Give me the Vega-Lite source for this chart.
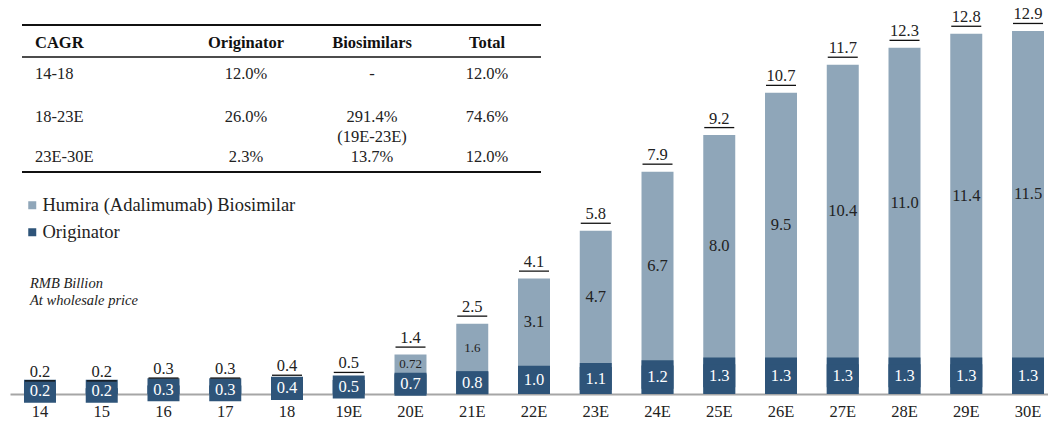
{
  "$schema": "https://vega.github.io/schema/vega-lite/v6.json",
  "width": 1038,
  "height": 394,
  "autosize": {"type": "none"},
  "padding": {"left": 10, "top": 0, "right": 0, "bottom": 27},
  "background": "white",
  "config": {
    "view": {"stroke": null},
    "font": "Liberation Serif",
    "text": {"font": "Liberation Serif"},
    "legend": {"labelFont": "Liberation Serif"},
    "axis": {"labelFont": "Liberation Serif"},
    "title": {"font": "Liberation Serif"}
  },
  "title": {
    "text": ["RMB Billion", "At wholesale price"],
    "anchor": "start",
    "orient": "top",
    "frame": "group",
    "fontSize": 14.5,
    "fontStyle": "italic",
    "fontWeight": "normal",
    "color": "#222222",
    "lineHeight": 17,
    "baseline": "top",
    "offset": 0,
    "dx": 20,
    "dy": 308
  },
  "datasets": {
    "main": [
      {"year": "14", "orig": 0.2, "total": 0.2},
      {"year": "15", "orig": 0.2, "total": 0.2},
      {"year": "16", "orig": 0.3, "total": 0.3},
      {"year": "17", "orig": 0.3, "total": 0.3},
      {"year": "18", "orig": 0.4, "total": 0.4},
      {"year": "19E", "orig": 0.5, "total": 0.5},
      {"year": "20E", "orig": 0.7, "bio": 0.72, "bioLabel": "0.72", "total": 1.4},
      {"year": "21E", "orig": 0.8, "bio": 1.6, "bioLabel": "1.6", "total": 2.5},
      {"year": "22E", "orig": 1.0, "bio": 3.1, "bioLabel": "3.1", "total": 4.1},
      {"year": "23E", "orig": 1.1, "bio": 4.7, "bioLabel": "4.7", "total": 5.8},
      {"year": "24E", "orig": 1.2, "bio": 6.7, "bioLabel": "6.7", "total": 7.9},
      {"year": "25E", "orig": 1.3, "bio": 8.0, "bioLabel": "8.0", "total": 9.2},
      {"year": "26E", "orig": 1.3, "bio": 9.5, "bioLabel": "9.5", "total": 10.7},
      {"year": "27E", "orig": 1.3, "bio": 10.4, "bioLabel": "10.4", "total": 11.7},
      {"year": "28E", "orig": 1.3, "bio": 11.0, "bioLabel": "11.0", "total": 12.3},
      {"year": "29E", "orig": 1.3, "bio": 11.4, "bioLabel": "11.4", "total": 12.8},
      {"year": "30E", "orig": 1.3, "bio": 11.5, "bioLabel": "11.5", "total": 12.9}
    ],
    "table": [
      {"r": 0, "c": 0, "t": "CAGR"},
      {"r": 0, "c": 1, "t": "Originator"},
      {"r": 0, "c": 2, "t": "Biosimilars"},
      {"r": 0, "c": 3, "t": "Total"},
      {"r": 1, "c": 0, "t": "14-18"},
      {"r": 1, "c": 1, "t": "12.0%"},
      {"r": 1, "c": 2, "t": "-"},
      {"r": 1, "c": 3, "t": "12.0%"},
      {"r": 2, "c": 0, "t": "18-23E"},
      {"r": 2, "c": 1, "t": "26.0%"},
      {"r": 2, "c": 2, "t": "291.4%\n(19E-23E)"},
      {"r": 2, "c": 3, "t": "74.6%"},
      {"r": 3, "c": 0, "t": "23E-30E"},
      {"r": 3, "c": 1, "t": "2.3%"},
      {"r": 3, "c": 2, "t": "13.7%"},
      {"r": 3, "c": 3, "t": "12.0%"}
    ],
    "rules": [
      {"b": -0.5},
      {"b": 0.5},
      {"b": 3.5}
    ]
  },
  "resolve": {"scale": {"x": "independent", "y": "independent"}},
  "layer": [
    {
      "data": {"name": "main"},
      "mark": {"type": "bar"},
      "encoding": {
        "x": {"field": "year", "type": "nominal", "sort": null,
          "scale": {"type": "band", "domain": ["14","15","16","17","18","19E","20E","21E","22E","23E","24E","25E","26E","27E","28E","29E","30E"], "paddingInner": 0.482, "paddingOuter": 0.1457, "align": 0.778},
          "axis": {"title": null, "domainColor": "#A6A6A6", "domainWidth": 2, "ticks": false, "grid": false, "labelAngle": 0, "labelFontSize": 16.5, "labelColor": "#222222", "labelPadding": 9}},
        "y": {"field": "total", "type": "quantitative", "scale": {"domain": [0, 14], "nice": false}, "axis": null},
        "color": {"datum": "Humira (Adalimumab) Biosimilar", "type": "nominal",
          "scale": {"domain": ["Humira (Adalimumab) Biosimilar", "Originator"], "range": ["#8FA6B9", "#2E5479"]},
          "legend": {"title": null, "orient": "none", "legendX": 13, "legendY": 196, "symbolType": "square", "symbolSize": 64, "symbolStrokeWidth": 0, "labelFontSize": 18.5, "labelColor": "#222222", "labelOffset": 1, "labelLimit": 500, "rowPadding": 8, "padding": 0}}
      }
    },
    {
      "data": {"name": "main"},
      "transform": [
        {"filter": "datum.bio > 0"},
        {"fold": ["orig", "total"], "as": ["k", "v"]}
      ],
      "mark": {"type": "text", "baseline": "middle", "align": "center", "color": "#222222"},
      "encoding": {
        "x": {"field": "year", "type": "nominal", "sort": null,
          "scale": {"type": "band", "domain": ["14","15","16","17","18","19E","20E","21E","22E","23E","24E","25E","26E","27E","28E","29E","30E"], "paddingInner": 0.482, "paddingOuter": 0.1457, "align": 0.778},
          "axis": null},
        "y": {"aggregate": "sum", "field": "v", "type": "quantitative", "scale": {"domain": [0, 28], "nice": false}, "axis": null},
        "text": {"field": "bioLabel", "type": "nominal"},
        "detail": {"field": "bio", "type": "quantitative"},
        "size": {"condition": {"test": "datum.bio < 2", "value": 13}, "value": 16.5}
      }
    },
    {
      "data": {"name": "main"},
      "mark": {"type": "bar"},
      "encoding": {
        "x": {"field": "year", "type": "nominal", "sort": null,
          "scale": {"type": "band", "domain": ["14","15","16","17","18","19E","20E","21E","22E","23E","24E","25E","26E","27E","28E","29E","30E"], "paddingInner": 0.482, "paddingOuter": 0.1457, "align": 0.778},
          "axis": null},
        "y": {"field": "orig", "type": "quantitative", "scale": {"domain": [0, 14], "nice": false}, "axis": null},
        "color": {"datum": "Originator", "type": "nominal"}
      }
    },
    {
      "data": {"name": "main"},
      "mark": {"type": "point", "shape": "M-1,-0.72H1V0.72H-1Z", "size": 1024, "filled": true, "opacity": 1, "color": "#2E5479", "strokeWidth": 0},
      "encoding": {
        "x": {"field": "year", "type": "nominal", "sort": null,
          "scale": {"type": "band", "domain": ["14","15","16","17","18","19E","20E","21E","22E","23E","24E","25E","26E","27E","28E","29E","30E"], "paddingInner": 0.482, "paddingOuter": 0.1457, "align": 0.778},
          "axis": null},
        "y": {"field": "orig", "type": "quantitative", "scale": {"domain": [0, 28], "nice": false}, "axis": null}
      }
    },
    {
      "data": {"name": "main"},
      "mark": {"type": "text", "baseline": "middle", "align": "center", "color": "white", "fontSize": 16.5},
      "encoding": {
        "x": {"field": "year", "type": "nominal", "sort": null,
          "scale": {"type": "band", "domain": ["14","15","16","17","18","19E","20E","21E","22E","23E","24E","25E","26E","27E","28E","29E","30E"], "paddingInner": 0.482, "paddingOuter": 0.1457, "align": 0.778},
          "axis": null},
        "y": {"field": "orig", "type": "quantitative", "scale": {"domain": [0, 28], "nice": false}, "axis": null},
        "text": {"field": "orig", "type": "quantitative", "format": ".1f"}
      }
    },
    {
      "data": {"name": "main"},
      "mark": {"type": "tick", "size": 30, "thickness": 1.3, "color": "#111111", "opacity": 1, "yOffset": -7.5},
      "encoding": {
        "x": {"field": "year", "type": "nominal", "sort": null,
          "scale": {"type": "band", "domain": ["14","15","16","17","18","19E","20E","21E","22E","23E","24E","25E","26E","27E","28E","29E","30E"], "paddingInner": 0.482, "paddingOuter": 0.1457, "align": 0.778},
          "axis": null},
        "y": {"field": "total", "type": "quantitative", "scale": {"domain": [0, 14], "nice": false}, "axis": null}
      }
    },
    {
      "data": {"name": "main"},
      "mark": {"type": "text", "baseline": "alphabetic", "align": "center", "color": "#222222", "fontSize": 16.5, "dy": -11.5},
      "encoding": {
        "x": {"field": "year", "type": "nominal", "sort": null,
          "scale": {"type": "band", "domain": ["14","15","16","17","18","19E","20E","21E","22E","23E","24E","25E","26E","27E","28E","29E","30E"], "paddingInner": 0.482, "paddingOuter": 0.1457, "align": 0.778},
          "axis": null},
        "y": {"field": "total", "type": "quantitative", "scale": {"domain": [0, 14], "nice": false}, "axis": null},
        "text": {"field": "total", "type": "quantitative", "format": ".1f"}
      }
    },
    {
      "layer": [
        {
          "data": {"name": "rules"},
          "mark": {"type": "rule", "color": "#111111"},
          "encoding": {
            "y": {"field": "b", "type": "quantitative", "scale": {"domain": [-0.5, 0, 0.5, 1, 2, 3, 3.5], "range": [25, 43, 57, 74, 117, 157, 172], "nice": false, "zero": false}, "axis": null},
            "x": {"datum": -0.5, "type": "quantitative", "scale": {"domain": [-0.5, 0, 1, 2, 3, 3.5], "range": [12, 25, 236, 362, 477, 531], "nice": false, "zero": false}, "axis": null},
            "x2": {"datum": 3.5},
            "strokeWidth": {"condition": {"test": "datum.b == 0.5", "value": 1.5}, "value": 2}
          }
        },
        {
          "data": {"name": "table"},
          "transform": [{"filter": "datum.r == 0 && datum.c == 0"}],
          "mark": {"type": "text", "align": "left", "baseline": "middle", "fontWeight": "bold", "fontSize": 16.5, "color": "#111111"},
          "encoding": {
            "x": {"field": "c", "type": "quantitative"},
            "y": {"field": "r", "type": "quantitative"},
            "text": {"field": "t"}
          }
        },
        {
          "data": {"name": "table"},
          "transform": [{"filter": "datum.r == 0 && datum.c > 0"}],
          "mark": {"type": "text", "align": "center", "baseline": "middle", "fontWeight": "bold", "fontSize": 16.5, "color": "#111111"},
          "encoding": {
            "x": {"field": "c", "type": "quantitative"},
            "y": {"field": "r", "type": "quantitative"},
            "text": {"field": "t"}
          }
        },
        {
          "data": {"name": "table"},
          "transform": [{"filter": "datum.r > 0 && datum.c == 0"}],
          "mark": {"type": "text", "align": "left", "baseline": "middle", "fontSize": 16.5, "color": "#222222"},
          "encoding": {
            "x": {"field": "c", "type": "quantitative"},
            "y": {"field": "r", "type": "quantitative"},
            "text": {"field": "t"}
          }
        },
        {
          "data": {"name": "table"},
          "transform": [{"filter": "datum.r > 0 && datum.c > 0"}],
          "mark": {"type": "text", "align": "center", "baseline": "middle", "fontSize": 16.5, "color": "#222222", "lineBreak": "\n", "lineHeight": 20},
          "encoding": {
            "x": {"field": "c", "type": "quantitative"},
            "y": {"field": "r", "type": "quantitative"},
            "text": {"field": "t"}
          }
        }
      ]
    }
  ]
}
